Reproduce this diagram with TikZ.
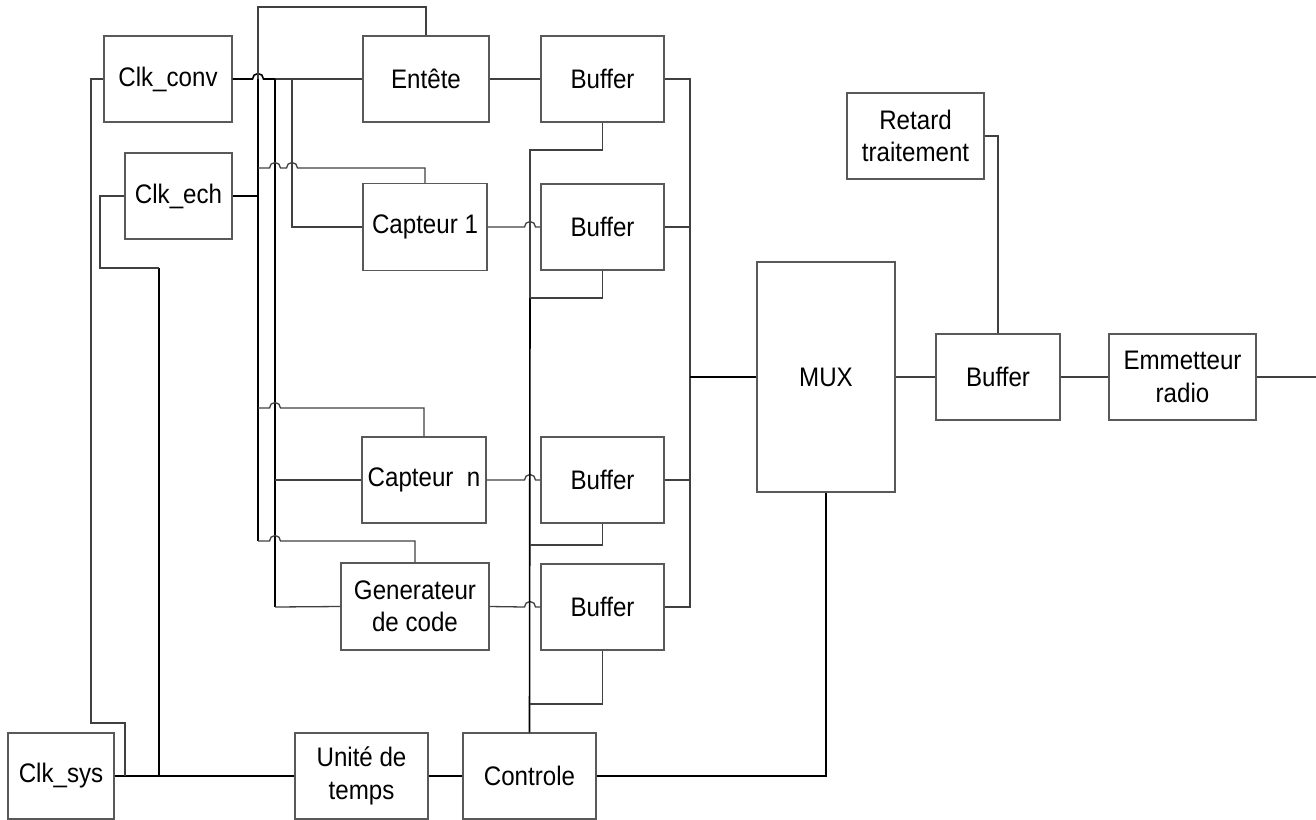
\documentclass[tikz,border=0pt]{standalone}
\usepackage{fontspec}
\setmainfont[FakeStretch=0.9]{Liberation Sans}
\begin{document}
\begin{tikzpicture}[x=1pt,y=-1pt,
  box/.style={draw=black!65,line width=1.3pt,rectangle,inner sep=0pt,align=center,
    font=\fontsize{26.8}{32.3}\selectfont,text=black},
  wire/.style={draw=black!75,line width=1.3pt},
  bold/.style={draw=black,line width=1.6pt}]
\useasboundingbox (0,0) rectangle (1316,819);
% nodes
\node[box,minimum width=128pt,minimum height=86pt] (clkconv) at (168,79) {Clk\_conv};
\node[box,minimum width=107pt,minimum height=86pt] (clkech) at (178.5,196) {Clk\_ech};
\node[box,minimum width=126pt,minimum height=86pt] (entete) at (426,79) {Entête};
\node[box,minimum width=123pt,minimum height=86pt] (buf1) at (602.5,79) {Buffer};
\node[box,minimum width=124pt,minimum height=87pt] (capt1) at (425,227) {Capteur 1};
\node[box,minimum width=123pt,minimum height=86pt] (buf2) at (602.5,227) {Buffer};
\node[box,minimum width=124pt,minimum height=86pt] (captn) at (424,480) {Capteur~~n};
\node[box,minimum width=123pt,minimum height=86pt] (buf3) at (602.5,480) {Buffer};
\node[box,minimum width=148pt,minimum height=87pt] (gen) at (415,606.5) {Generateur\\de code};
\node[box,minimum width=123pt,minimum height=86pt] (buf4) at (602.5,607) {Buffer};
\node[box,minimum width=137pt,minimum height=86pt] (retard) at (915.5,136) {Retard\\traitement};
\node[box,minimum width=138pt,minimum height=230pt] (mux) at (826,377) {MUX};
\node[box,minimum width=124pt,minimum height=86pt] (bufo) at (998,377) {Buffer};
\node[box,minimum width=147pt,minimum height=86pt] (emm) at (1182.5,377) {Emmetteur\\radio};
\node[box,minimum width=106pt,minimum height=86pt] (clksys) at (61,776) {Clk\_sys};
\node[box,minimum width=133pt,minimum height=86pt] (unite) at (361.5,776) {Unité de\\temps};
\node[box,minimum width=133pt,minimum height=86pt] (controle) at (529.5,776) {Controle};
\coordinate (out) at (1316,377);
% Clk_conv bus
\draw[bold] (clkconv.east) -- (252.5,79) arc[start angle=180,end angle=0,radius=5.5pt] -- (275,79);
\draw[wire] (275,79) -- (entete.west);
\draw[bold] (275,79) -- (275,607);
\draw[wire] (275,607) -- (gen.west);
\draw[wire] (275,480) -- (captn.west);
\draw[wire] (292,79) -- (292,227) -- (capt1.west);
% Clk_ech bus
\draw[bold] (clkech.east) -- (258,196);
\draw[wire] (entete.north) -- (426,7) -- (258,7) -- (258,79);
\draw[bold] (258,79) -- (258,541);
\draw[wire] (258,541)
  -- (269.5,541) arc[start angle=180,end angle=0,radius=5.5pt] -- (gen.north |- 0,541) -- (gen.north);
\draw[wire] (258,168) -- (269.5,168) arc[start angle=180,end angle=0,radius=5.5pt]
  -- (286.5,168) arc[start angle=180,end angle=0,radius=5.5pt] -- (capt1.north |- 0,168) -- (capt1.north);
\draw[wire] (258,408) -- (269.5,408) arc[start angle=180,end angle=0,radius=5.5pt]
  -- (captn.north |- 0,408) -- (captn.north);
% sources to buffers
\draw[wire] (entete.east) -- (buf1.west);
\draw[wire] (capt1.east) -- (524.5,227) arc[start angle=180,end angle=0,radius=5.5pt] -- (buf2.west);
\draw[wire] (captn.east) -- (524.5,480) arc[start angle=180,end angle=0,radius=5.5pt] -- (buf3.west);
\draw[wire] (gen.east) -- (524.5,607) arc[start angle=180,end angle=0,radius=5.5pt] -- (buf4.west);
% buffers to MUX
\draw[wire] (buf1.east) -- (690,79) -- (690,607) -- (buf4.east);
\draw[wire] (buf2.east) -- (690,227);
\draw[wire] (buf3.east) -- (690,480);
\draw[bold] (690,377) -- (mux.west);
% control bus
\draw[wire] (buf1.south) -- (buf1.south |- 0,150) -- (530,150) -- (530,298);
\draw[bold] (530,298) -- (controle.north);
\draw[wire] (buf2.south) -- (buf2.south |- 0,298) -- (530,298);
\draw[wire] (buf3.south) -- (buf3.south |- 0,545) -- (530,545);
\draw[wire] (buf4.south) -- (buf4.south |- 0,704) -- (530,704);
% output chain
\draw[wire] (mux.east) -- (bufo.west);
\draw[wire] (bufo.east) -- (emm.west);
\draw[wire] (emm.east) -- (out);
\draw[wire] (retard.east) -- (bufo.north |- retard.east) -- (bufo.north);
\draw[bold] (controle.east) -- (mux.south |- controle.east) -- (mux.south);
% system clock
\draw[bold] (clksys.east) -- (unite.west);
\draw[bold] (unite.east) -- (controle.west);
\draw[wire] (125,776) -- (125,723) -- (91,723) -- (91,79) -- (clkconv.west);
\draw[bold] (159,776) -- (159,268);
\draw[wire] (159,268) -- (100,268) -- (100,196) -- (clkech.west);
\end{tikzpicture}
\end{document}
